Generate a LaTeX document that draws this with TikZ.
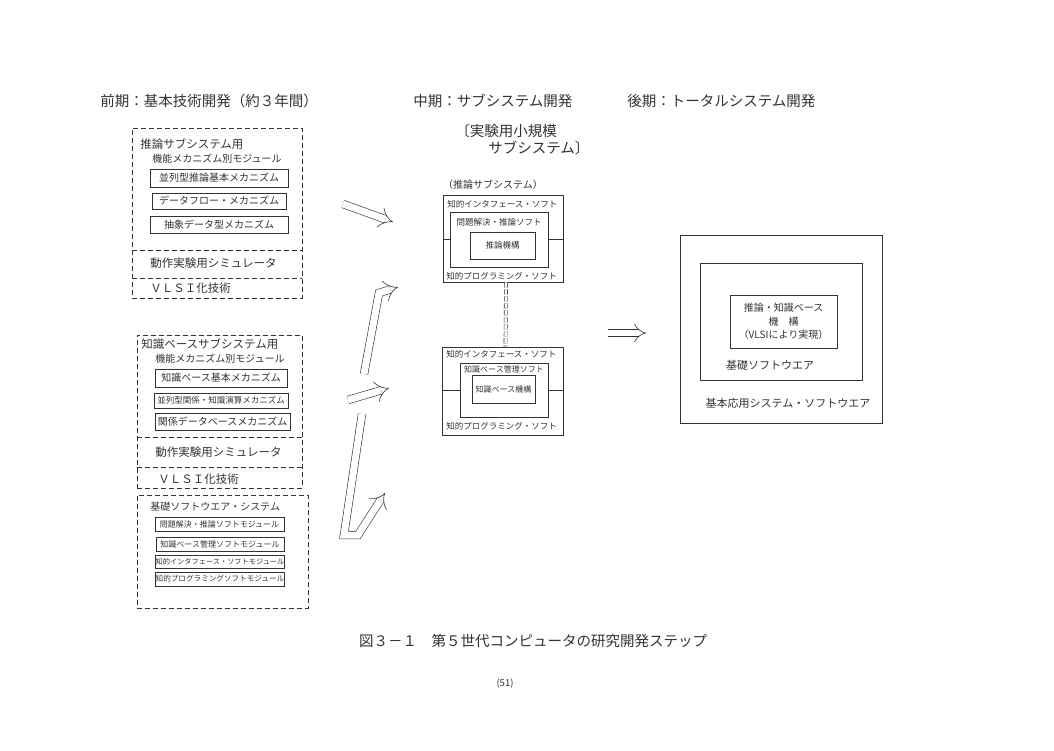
\documentclass[tikz,border=0pt]{standalone}
\usepackage{fontspec}
\setmainfont{Noto Sans CJK JP}
\usepackage{tikz}
\usetikzlibrary{arrows.meta, positioning}

\begin{document}
\begin{tikzpicture}[
        x=1pt, y=-1pt, color=black!80, line width=0.6pt,
        txtH/.style={font=\fontsize{14.5}{16}\selectfont},
        txtL/.style={font=\fontsize{11.5}{13}\selectfont},
        txtR/.style={font=\fontsize{11}{13}\selectfont},
        txtM/.style={font=\fontsize{10}{12}\selectfont},
        txtS/.style={font=\fontsize{8.5}{10}\selectfont},
        txtXS/.style={font=\fontsize{8}{9}\selectfont},
        lbl/.style={anchor=west, inner sep=0pt},
        grp/.style={rectangle, draw, dash pattern=on 5pt off 3pt, inner sep=0pt},
        sepline/.style={dash pattern=on 5pt off 3pt},
        mech/.style={rectangle, draw, inner sep=0pt, txtM},
        sbox/.style={rectangle, draw, inner sep=0pt},
        hollow/.style={double=white, double distance=7pt, line width=0.6pt, -{Implies[length=6pt]}},
        link/.style={double=white, double distance=2.5pt, dash pattern=on 5pt off 2pt}
    ]
        \useasboundingbox[fill=white] (0,0) rectangle (1054,750);

        \node[lbl, txtH] (h1) at (100,101) {前期：基本技術開発（約３年間）};
        \node[lbl, txtH] (h2) at (413,101) {中期：サブシステム開発};
        \node[lbl, txtH] (h3) at (627,101) {後期：トータルシステム開発};
        \node[lbl, txtH] (h2a) at (455,131) {〔実験用小規模};
        \node[lbl, txtH] (h2b) at (488,148) {サブシステム〕};

        \node[grp, minimum width=170pt, minimum height=170pt] (g1) at (217,213) {};
        \node[lbl, txtL] (g1t) at (140,144) {推論サブシステム用};
        \node[lbl, txtM] (g1s) at (152,159) {機能メカニズム別モジュール};
        \node[mech, minimum width=138pt, minimum height=18pt] (m11) at (219,178) {並列型推論基本メカニズム};
        \node[mech, minimum width=134pt, minimum height=16pt] (m12) at (219,201) {データフロー・メカニズム};
        \node[mech, minimum width=138pt, minimum height=17pt] (m13) at (219,224.5) {抽象データ型メカニズム};
        \draw[sepline] (g1.west |- 0,250) -- (g1.east |- 0,250);
        \node[lbl, txtL] (g1a) at (150,263) {動作実験用シミュレータ};
        \draw[sepline] (g1.west |- 0,278) -- (g1.east |- 0,278);
        \node[lbl, txtL] (g1b) at (150,288) {ＶＬＳＩ化技術};

        \node[grp, minimum width=165pt, minimum height=153pt] (g2) at (219.5,411.5) {};
        \node[lbl, txtL] (g2t) at (141,344) {知識ベースサブシステム用};
        \node[lbl, txtM] (g2s) at (155,359) {機能メカニズム別モジュール};
        \node[mech, minimum width=132pt, minimum height=18pt] (m21) at (221,378) {知識ベース基本メカニズム};
        \node[mech, txtS, minimum width=134pt, minimum height=15pt] (m22) at (221,400.5) {並列型関係・知識演算メカニズム};
        \node[mech, minimum width=135pt, minimum height=17pt] (m23) at (222.5,421.5) {関係データベースメカニズム};
        \draw[sepline] (g2.west |- 0,437) -- (g2.east |- 0,437);
        \node[lbl, txtL] (g2a) at (155,452) {動作実験用シミュレータ};
        \draw[sepline] (g2.west |- 0,467) -- (g2.east |- 0,467);
        \node[lbl, txtL] (g2b) at (158,479) {ＶＬＳＩ化技術};

        \node[grp, minimum width=171pt, minimum height=113pt] (g3) at (222.5,551.5) {};
        \node[lbl, txtM] (g3t) at (150,507) {基礎ソフトウエア・システム};
        \node[mech, txtXS, minimum width=129pt, minimum height=14pt] (m31) at (219.5,524) {問題解決・推論ソフトモジュール};
        \node[mech, txtXS, minimum width=128pt, minimum height=14pt] (m32) at (220,544) {知識ベース管理ソフトモジュール};
        \node[mech, font=\fontsize{7.2}{8}\selectfont, minimum width=128pt, minimum height=13pt] (m33) at (220,561.5) {知的インタフェース・ソフトモジュール};
        \node[mech, font=\fontsize{7.6}{8}\selectfont, minimum width=128pt, minimum height=14pt] (m34) at (220,579) {知的プログラミングソフトモジュール};

        \node[txtM] (s1h) at (493,185) {（推論サブシステム）};
        \node[sbox, minimum width=120pt, minimum height=87pt] (s1o) at (503,238.5) {};
        \node[lbl, txtS] (s1t) at (447,204) {知的インタフェース・ソフト};
        \node[sbox, minimum width=98pt, minimum height=55pt] (s1m) at (499,239.5) {};
        \node[txtS] (s1mt) at (499,222) {問題解決・推論ソフト};
        \node[sbox, txtS, minimum width=65pt, minimum height=27pt] (s1i) at (502.5,245.5) {推論機構};
        \node[lbl, txtS] (s1b) at (446,276) {知的プログラミング・ソフト};
        \draw (s1m.west) -- (s1o.west |- s1m.west);
        \draw (s1m.east) -- (s1o.east |- s1m.east);

        \node[sbox, minimum width=121pt, minimum height=88pt] (s2o) at (502.5,391) {};
        \node[lbl, txtS] (s2t) at (446,354) {知的インタフェース・ソフト};
        \node[sbox, minimum width=88pt, minimum height=54pt] (s2m) at (504,390) {};
        \node[txtXS] (s2mt) at (504,369) {知識ベース管理ソフト};
        \node[sbox, txtXS, minimum width=63pt, minimum height=28pt] (s2i) at (503.5,389) {知識ベース機構};
        \node[lbl, txtS] (s2b) at (446,426) {知的プログラミング・ソフト};
        \draw (s2m.west) -- (s2o.west |- s2m.west);
        \draw (s2m.east) -- (s2o.east |- s2m.east);
        \draw[link] ([xshift=3pt]s1o.south) -- ([xshift=3pt]s2o.north);

        \node[sbox, minimum width=202pt, minimum height=188pt] (r1o) at (781,329) {};
        \node[sbox, minimum width=162pt, minimum height=117pt] (r1m) at (781,321.5) {};
        \node[sbox, align=center, font=\fontsize{10}{13.5}\selectfont, minimum width=107pt, minimum height=53pt] (r1i) at (783.5,321.5) {推論・知識ベース\\機　構\\（VLSIにより実現）};
        \node[txtR] (r1mt) at (770,365) {基礎ソフトウエア};
        \node[txtR] (r1ot) at (788,403) {基本応用システム・ソフトウエア};

        \coordinate (a1s) at (343,204);
        \coordinate (a1e) at (393,222);
        \coordinate (a2s) at (364,374);
        \coordinate (a2b) at (379,293);
        \coordinate (a2e) at (398,287);
        \coordinate (a3s) at (348,400);
        \coordinate (a3e) at (389,388);
        \coordinate (a4s) at (362,414);
        \coordinate (a4b) at (344,535);
        \coordinate (a4c) at (358,535);
        \coordinate (a4e) at (385,493);
        \coordinate (d1s) at (608,333);
        \coordinate (d1e) at (646,333);
        \draw[hollow] (a1s) -- (a1e);
        \draw[hollow] (a2s) -- (a2b) -- (a2e);
        \draw[hollow] (a3s) -- (a3e);
        \draw[hollow] (a4s) -- (a4b) -- (a4c) -- (a4e);
        \draw[hollow, double distance=6pt] (d1s) -- (d1e);

        \node[font=\fontsize{14.5}{16}\selectfont] (cap) at (533,641) {図３－１　第５世代コンピュータの研究開発ステップ};
        \node[font=\fontsize{9.5}{11}\selectfont] (pg) at (505,684) {(51)};
    \end{tikzpicture}
\end{document}
